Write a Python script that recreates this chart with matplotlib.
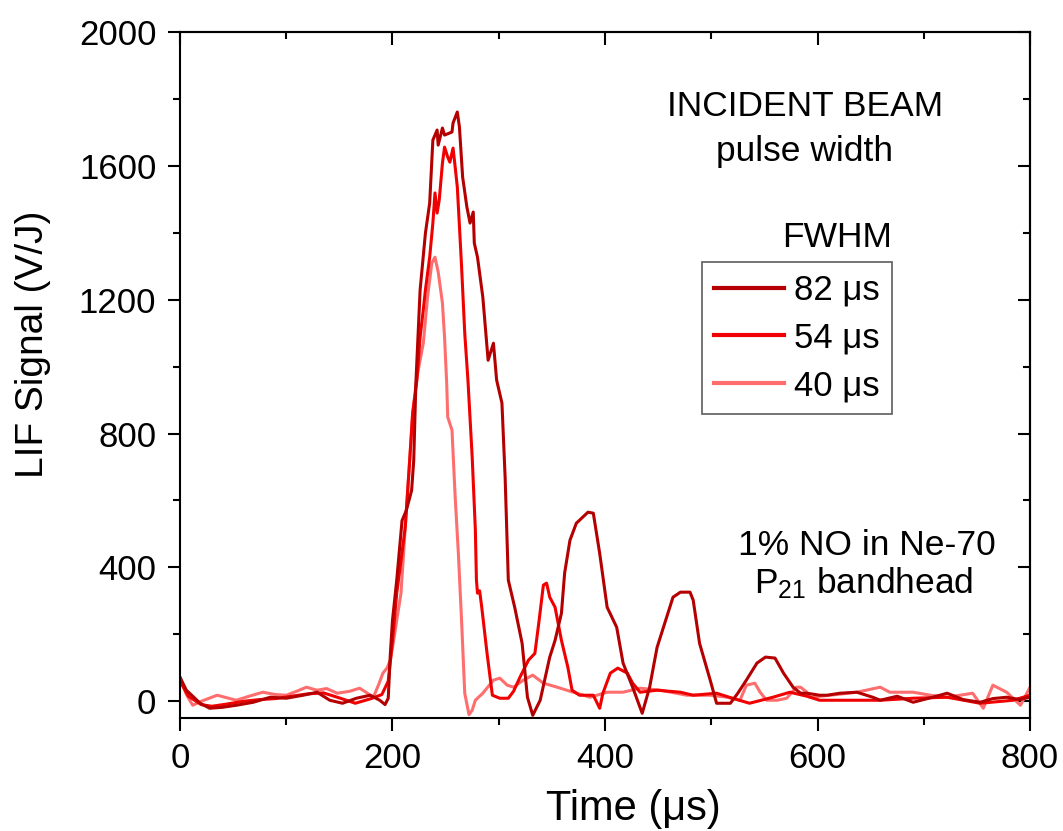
import matplotlib
matplotlib.use('Agg')
import matplotlib.pyplot as plt
from matplotlib.ticker import MultipleLocator

plt.rcParams['font.family'] = ['Liberation Sans', 'DejaVu Sans']
plt.rcParams['mathtext.default'] = 'regular'

# 82 us trace (dark red)
t82 = [0, 6, 19, 28, 40, 53, 69, 85, 100, 116, 129, 141, 153, 166, 179, 188, 193, 196, 198, 200, 204, 209,
       213, 218, 220, 222, 226, 231, 235, 238, 242, 243, 247, 249, 256, 257, 261, 263, 266, 270, 273, 276,
       277, 280, 285, 290, 295, 298, 303, 306, 309, 315, 322, 327, 332, 339, 348, 353, 359, 362, 367, 373,
       378, 384, 389, 395, 402, 411, 417, 426, 435, 442, 449, 458, 464, 471, 480, 483, 489, 499, 505, 518,
       525, 533, 543, 551, 560, 568, 577, 584, 590, 602, 609, 621, 637, 652, 659, 675, 690, 706, 722, 737,
       753, 765, 778, 790, 800]
y82 = [72, 33, -6, -21, -18, -12, -3, 12, 9, 18, 27, 3, -6, 9, 18, 3, -10, 9, 143, 242, 362, 540,
       570, 630, 720, 950, 1229, 1399, 1489, 1677, 1707, 1662, 1713, 1692, 1701, 1728, 1761, 1716, 1567, 1477, 1429, 1462,
       1369, 1327, 1208, 1019, 1070, 960, 891, 670, 362, 281, 173, 12, -42, 3, 132, 182, 263, 383, 481, 532,
       547, 565, 562, 442, 281, 221, 114, 42, -36, 42, 161, 251, 311, 326, 326, 302, 173, 63, -6, -6,
       24, 63, 114, 132, 129, 84, 42, 24, 24, 18, 18, 24, 27, 12, 3, 15, -3, 10, 24, 5,
       -3, 8, 12, 5, 12]

# 54 us trace (red)
t54 = [0, 8, 20, 30, 45, 60, 75, 90, 105, 120, 135, 150, 165, 180, 190, 196, 200, 204, 208, 212, 216, 219,
       223, 226, 229, 231, 235, 238, 240, 242, 244, 247, 249, 252, 254, 257, 259, 261, 263, 265, 268, 271,
       275, 278, 279, 280, 282, 284, 289, 294, 301, 309, 314, 320, 328, 334, 338, 342, 345, 348, 353, 359,
       365, 369, 376, 389, 395, 398, 405, 412, 421, 426, 433, 449, 471, 483, 505, 520, 536, 558, 574, 590,
       602, 627, 659, 690, 722, 753, 784, 800]
y54 = [60, 15, -10, -15, -8, 0, 5, 8, 15, 22, 25, 10, -6, 8, 20, 60, 180, 323, 420, 520, 711, 861,
       960, 1088, 1170, 1229, 1327, 1429, 1519, 1459, 1498, 1608, 1656, 1626, 1611, 1653, 1596, 1537, 1420, 1300, 1100, 960,
       730, 511, 362, 323, 330, 281, 143, 18, 9, 9, 30, 72, 123, 143, 242, 347, 353, 311, 281, 182,
       102, 33, 18, 18, -21, 24, 84, 99, 84, 54, 27, 33, 27, 18, 24, 9, -6, 12, 27, 15,
       3, 3, 3, 9, 12, -6, 3, 18]

# 40 us trace (pink)
t40 = [0, 6, 12, 20, 35, 53, 65, 78, 90, 100, 110, 119, 129, 138, 148, 160, 169, 176, 182, 187, 191, 195,
       198, 201, 204, 208, 212, 216, 219, 223, 229, 233, 237, 240, 243, 247, 249, 251, 252, 256, 259, 262,
       265, 268, 272, 275, 278, 285, 295, 301, 308, 314, 323, 332, 342, 355, 370, 386, 402, 417, 433, 452,
       477, 499, 515, 527, 533, 541, 546, 552, 562, 571, 580, 584, 590, 593, 612, 637, 659, 668, 690, 706,
       722, 746, 756, 765, 778, 791, 800]
y40 = [72, 20, -12, 0, 18, 3, 15, 27, 20, 18, 30, 42, 33, 38, 24, 30, 39, 25, 12, 50, 84, 100,
       123, 180, 242, 323, 520, 711, 861, 969, 1070, 1208, 1309, 1327, 1283, 1190, 1088, 951, 849, 810, 610, 442,
       242, 24, -40, -27, 3, 24, 63, 69, 48, 42, 63, 78, 54, 42, 27, 12, 27, 27, 39, 33,
       18, 18, 12, 3, 48, 54, 27, 3, 3, 9, 42, 42, 27, 12, 18, 27, 42, 27, 27, 18,
       12, 24, -21, 48, 27, -12, 42]

fig = plt.figure(figsize=(10.63, 8.31), dpi=100)
ax = fig.add_axes([0.1693, 0.136, 0.7997, 0.8255])

l40, = ax.plot(t40, y40, color='#FF6E6E', lw=2.2, label='40 μs')
l54, = ax.plot(t54, y54, color='#F00000', lw=2.2, label='54 μs')
l82, = ax.plot(t82, y82, color='#B40000', lw=2.2, label='82 μs')

ax.set_xlim(0, 800)
ax.set_ylim(-50, 2000)
ax.xaxis.set_major_locator(MultipleLocator(200))
ax.xaxis.set_minor_locator(MultipleLocator(100))
ax.yaxis.set_major_locator(MultipleLocator(400))
ax.yaxis.set_minor_locator(MultipleLocator(200))
ax.tick_params(which='major', direction='out', length=9, width=1.5, labelsize=25, pad=8)
ax.tick_params(which='minor', direction='out', length=5, width=1.5)
for s in ax.spines.values():
    s.set_linewidth(1.5)

# mirrored inward ticks on top and right
top = ax.secondary_xaxis('top')
top.xaxis.set_major_locator(MultipleLocator(200))
top.xaxis.set_minor_locator(MultipleLocator(100))
top.tick_params(which='major', direction='in', length=9, width=1.5, labeltop=False)
top.tick_params(which='minor', direction='in', length=5, width=1.5)
top.spines['top'].set_linewidth(1.5)
right = ax.secondary_yaxis('right')
right.yaxis.set_major_locator(MultipleLocator(400))
right.yaxis.set_minor_locator(MultipleLocator(200))
right.tick_params(which='major', direction='in', length=9, width=1.5, labelright=False)
right.tick_params(which='minor', direction='in', length=5, width=1.5)
right.spines['right'].set_linewidth(1.5)

ax.set_xlabel('Time (μs)', fontsize=30)
ax.set_ylabel('LIF Signal (V/J)', fontsize=28)
ax.xaxis.set_label_coords(0.533, -0.103)
ax.yaxis.set_label_coords(-0.152, 0.544)

ax.text(0.735, 0.891, 'INCIDENT BEAM', transform=ax.transAxes, ha='center', va='center', fontsize=25.5)
ax.text(0.735, 0.826, 'pulse width', transform=ax.transAxes, ha='center', va='center', fontsize=25.5)
ax.text(0.838, 0.700, 'FWHM', transform=ax.transAxes, ha='right', va='center', fontsize=25.5)
ax.text(0.808, 0.251, '1% NO in Ne-70', transform=ax.transAxes, ha='center', va='center', fontsize=25.5)
ax.text(0.804, 0.196, 'P$_{21}$ bandhead', transform=ax.transAxes, ha='center', va='center', fontsize=25.5)

leg = ax.legend(handles=[l82, l54, l40], loc='upper left', bbox_to_anchor=(0.614, 0.665),
                fontsize=25, frameon=True, fancybox=False, edgecolor='#333333',
                handlelength=2.0, handletextpad=0.3, borderpad=0.35, labelspacing=0.42,
                borderaxespad=0)
leg.get_frame().set_linewidth(1.2)
for h in leg.get_lines():
    h.set_linewidth(3.0)

fig.savefig('out.png', dpi=100)
